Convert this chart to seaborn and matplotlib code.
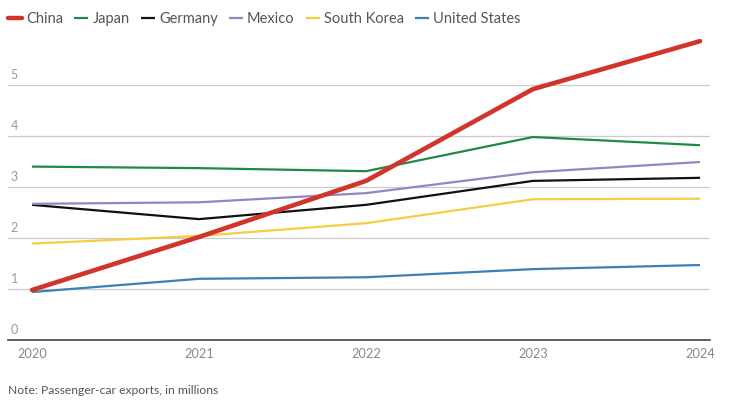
import matplotlib
matplotlib.use("Agg")
import matplotlib.pyplot as plt
from matplotlib.lines import Line2D
from matplotlib.transforms import ScaledTranslation
import seaborn as sns
import pandas as pd

years = [2020, 2021, 2022, 2023, 2024]
countries = ["China", "Japan", "Germany", "Mexico", "South Korea", "United States"]
china = [0.98, 2.02, 3.12, 4.92, 5.86]
japan = [3.40, 3.37, 3.31, 3.98, 3.82]
germany = [2.65, 2.37, 2.65, 3.12, 3.18]
mexico = [2.67, 2.70, 2.88, 3.29, 3.49]
south_korea = [1.89, 2.04, 2.29, 2.76, 2.77]
united_states = [0.94, 1.20, 1.23, 1.39, 1.47]
y_ticks = [0, 1, 2, 3, 4, 5]
note = "Note: Passenger-car exports, in millions"

series = [china, japan, germany, mexico, south_korea, united_states]
colors = {"China": "#d2342b", "Japan": "#1f8a47", "Germany": "#111111",
          "Mexico": "#9287c0", "South Korea": "#f6cb45", "United States": "#3d7fb6"}
widths = {c: 1.6 for c in countries}
widths["China"] = 3.3

rows = []
for c, vals in zip(countries, series):
    for y, v in zip(years, vals):
        rows.append({"year": y, "value": v, "country": c})
df = pd.DataFrame(rows)

sns.set_theme(style="white")
plt.rcParams["font.family"] = ["Lato", "DejaVu Sans"]

fig = plt.figure(figsize=(7.52, 4.03), dpi=100)
ax = fig.add_axes([8 / 752, 1 - 340 / 403, 702 / 752, 310 / 403])

draw_order = ["United States", "South Korea", "Germany", "Mexico", "Japan", "China"]
for z, c in enumerate(draw_order):
    sub = df[df["country"] == c]
    sns.lineplot(data=sub, x="year", y="value", ax=ax, color=colors[c],
                 linewidth=widths[c], legend=False, zorder=3 + z,
                 solid_capstyle="round" if c == "China" else "butt")

px_per_year = 167.0
ax.set_xlim(2020 - 24 / px_per_year, 2024 + 10 / px_per_year)
ax.set_ylim(0, 310 / 51)
ax.set_xticks(years)
ax.set_xticklabels([str(y) for y in years])
ax.set_yticks(y_ticks)
ax.set_yticklabels([str(t) for t in y_ticks])
ax.set_xlabel("")
ax.set_ylabel("")

for s in ["top", "right", "left"]:
    ax.spines[s].set_visible(False)
ax.spines["bottom"].set_color("#333333")
ax.spines["bottom"].set_linewidth(1.1)
ax.spines["bottom"].set_zorder(10)

ax.yaxis.grid(True, color="#cccccc", linewidth=0.9)
ax.xaxis.grid(False)
ax.set_axisbelow(True)

ax.tick_params(axis="x", length=0, pad=6, labelsize=9.2, labelcolor="#8a8a8a")
ax.tick_params(axis="y", length=0, pad=-2, labelsize=9, labelcolor="#9a9a9a")
offset = ScaledTranslation(0, 3.0 / 72, fig.dpi_scale_trans)
for lab in ax.get_yticklabels():
    lab.set_horizontalalignment("left")
    lab.set_verticalalignment("bottom")
    lab.set_transform(lab.get_transform() + offset)

handles = [Line2D([0], [0], color=colors[c], linewidth=(3.2 if c == "China" else 1.6),
                  solid_capstyle="round" if c == "China" else "butt") for c in countries]
leg = fig.legend(handles, countries, loc="upper left", bbox_to_anchor=(-0.004, 0.997),
                 ncol=6, frameon=False, fontsize=10.5, handlelength=0.95,
                 handletextpad=0.3, columnspacing=0.76, borderaxespad=0.35)
for t in leg.get_texts():
    t.set_color("#555555")

fig.text(8 / 752, 1 - 390 / 403, note, fontsize=8.7, color="#555555",
         ha="left", va="center")

fig.savefig("out.png", dpi=100, facecolor="white")
